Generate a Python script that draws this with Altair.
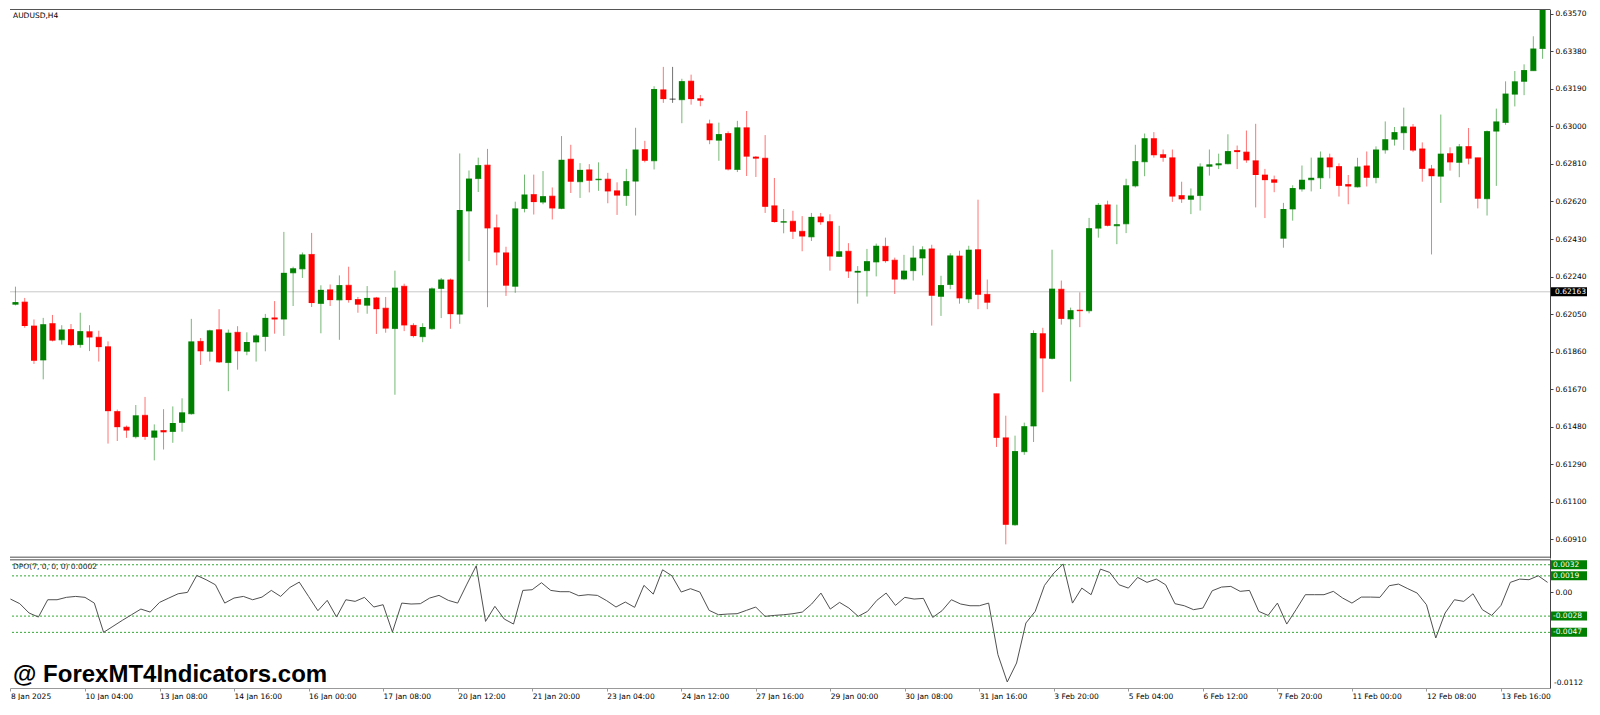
import altair as alt
import pandas as pd

# ---------------- data (AUDUSD H4 candles) ----------------
open_ = [0.62100, 0.62111, 0.61990, 0.61818, 0.62002, 0.61920, 0.61972, 0.61896, 0.61961, 0.61933,
         0.61885, 0.61557, 0.61478, 0.61430, 0.61538, 0.61427, 0.61461, 0.61456, 0.61502, 0.61546,
         0.61912, 0.61862, 0.61971, 0.61805, 0.61958, 0.61862, 0.61909, 0.61937, 0.62031, 0.62025,
         0.62259, 0.62279, 0.62352, 0.62104, 0.62173, 0.62122, 0.62196, 0.62124, 0.62095, 0.62132,
         0.62080, 0.61977, 0.62191, 0.61993, 0.61936, 0.61976, 0.62180, 0.62223, 0.62050, 0.62572,
         0.62736, 0.62804, 0.62487, 0.62360, 0.62191, 0.62585, 0.62655, 0.62617, 0.62647, 0.62585,
         0.62834, 0.62720, 0.62780, 0.62730, 0.62733, 0.62674, 0.62650, 0.62723, 0.62883, 0.62826,
         0.63185, 0.63138, 0.63135, 0.63229, 0.63140, 0.63013, 0.62930, 0.62964, 0.62782, 0.62993,
         0.62845, 0.62839, 0.62598, 0.62515, 0.62520, 0.62469, 0.62441, 0.62542, 0.62518, 0.62342,
         0.62368, 0.62262, 0.62270, 0.62314, 0.62393, 0.62323, 0.62228, 0.62270, 0.62334, 0.62380,
         0.62140, 0.62200, 0.62344, 0.62127, 0.62376, 0.62150, 0.61647, 0.61424, 0.60984, 0.61354,
         0.61484, 0.61951, 0.61826, 0.62176, 0.62026, 0.62070, 0.62067, 0.62485, 0.62603, 0.62497,
         0.62507, 0.62699, 0.62821, 0.62938, 0.62857, 0.62841, 0.62650, 0.62631, 0.62650, 0.62798,
         0.62805, 0.62811, 0.62878, 0.62870, 0.62826, 0.62754, 0.62730, 0.62434, 0.62582, 0.62683,
         0.62730, 0.62740, 0.62841, 0.62797, 0.62706, 0.62694, 0.62800, 0.62741, 0.62881, 0.62935,
         0.62968, 0.62997, 0.62886, 0.62785, 0.62748, 0.62862, 0.62818, 0.62898, 0.62841, 0.62634,
         0.62976, 0.63020, 0.63163, 0.63228, 0.63282, 0.63394]

high = [0.62189, 0.62132, 0.62023, 0.62031, 0.62046, 0.61994, 0.62000, 0.62057, 0.61994, 0.61966,
        0.61912, 0.61567, 0.61486, 0.61590, 0.61631, 0.61492, 0.61569, 0.61583, 0.61624, 0.62026,
        0.61929, 0.61971, 0.62075, 0.61972, 0.61989, 0.61958, 0.61948, 0.62051, 0.62116, 0.62466,
        0.62290, 0.62362, 0.62461, 0.62196, 0.62200, 0.62246, 0.62290, 0.62137, 0.62192, 0.62137,
        0.62137, 0.62270, 0.62204, 0.62004, 0.62004, 0.62185, 0.62233, 0.62230, 0.62863, 0.62777,
        0.62842, 0.62886, 0.62554, 0.62391, 0.62619, 0.62756, 0.62756, 0.62774, 0.62691, 0.62951,
        0.62907, 0.62814, 0.62809, 0.62818, 0.62765, 0.62717, 0.62785, 0.62993, 0.62927, 0.63203,
        0.63301, 0.63301, 0.63241, 0.63262, 0.63159, 0.63034, 0.63019, 0.62975, 0.63028, 0.63078,
        0.62850, 0.62956, 0.62739, 0.62582, 0.62573, 0.62546, 0.62562, 0.62562, 0.62555, 0.62497,
        0.62409, 0.62293, 0.62380, 0.62407, 0.62437, 0.62336, 0.62350, 0.62396, 0.62393, 0.62401,
        0.62244, 0.62358, 0.62371, 0.62396, 0.62629, 0.62225, 0.61647, 0.61536, 0.61435, 0.61501,
        0.61968, 0.61981, 0.62376, 0.62220, 0.62083, 0.62160, 0.62537, 0.62612, 0.62624, 0.62604,
        0.62735, 0.62907, 0.62964, 0.62971, 0.62883, 0.62883, 0.62720, 0.62686, 0.62813, 0.62883,
        0.62862, 0.62960, 0.62903, 0.62979, 0.63013, 0.62785, 0.62751, 0.62613, 0.62702, 0.62802,
        0.62842, 0.62873, 0.62862, 0.62813, 0.62754, 0.62841, 0.62873, 0.62899, 0.63025, 0.62997,
        0.63095, 0.63012, 0.62919, 0.62805, 0.63060, 0.62894, 0.62911, 0.62992, 0.62841, 0.62979,
        0.63090, 0.63228, 0.63280, 0.63314, 0.63456, 0.63594]

low = [0.62094, 0.61981, 0.61798, 0.61720, 0.61912, 0.61896, 0.61888, 0.61880, 0.61863, 0.61810,
       0.61395, 0.61408, 0.61424, 0.61421, 0.61414, 0.61310, 0.61365, 0.61399, 0.61455, 0.61541,
       0.61793, 0.61811, 0.61803, 0.61660, 0.61769, 0.61842, 0.61810, 0.61862, 0.61951, 0.61940,
       0.62091, 0.62233, 0.62086, 0.61953, 0.62091, 0.61920, 0.62108, 0.62057, 0.62052, 0.61950,
       0.61956, 0.61642, 0.61964, 0.61932, 0.61908, 0.61970, 0.62030, 0.61976, 0.62001, 0.62318,
       0.62668, 0.62085, 0.62297, 0.62142, 0.62158, 0.62565, 0.62554, 0.62606, 0.62529, 0.62581,
       0.62663, 0.62638, 0.62666, 0.62674, 0.62611, 0.62552, 0.62598, 0.62549, 0.62818, 0.62782,
       0.63119, 0.63119, 0.63016, 0.63110, 0.63102, 0.62910, 0.62826, 0.62777, 0.62769, 0.62749,
       0.62744, 0.62562, 0.62513, 0.62459, 0.62430, 0.62368, 0.62420, 0.62502, 0.62270, 0.62339,
       0.62233, 0.62103, 0.62139, 0.62241, 0.62310, 0.62152, 0.62222, 0.62220, 0.62246, 0.61992,
       0.62041, 0.62176, 0.62103, 0.62106, 0.62075, 0.62075, 0.61378, 0.60885, 0.60979, 0.61338,
       0.61403, 0.61655, 0.61821, 0.61997, 0.61709, 0.61984, 0.62054, 0.62437, 0.62494, 0.62404,
       0.62460, 0.62691, 0.62748, 0.62842, 0.62821, 0.62618, 0.62613, 0.62556, 0.62574, 0.62751,
       0.62784, 0.62808, 0.62784, 0.62816, 0.62590, 0.62536, 0.62667, 0.62386, 0.62523, 0.62670,
       0.62671, 0.62683, 0.62737, 0.62645, 0.62606, 0.62691, 0.62696, 0.62712, 0.62862, 0.62903,
       0.62881, 0.62870, 0.62720, 0.62352, 0.62613, 0.62776, 0.62743, 0.62808, 0.62585, 0.62549,
       0.62699, 0.63008, 0.63101, 0.63158, 0.63282, 0.63342]

close = [0.62111, 0.61990, 0.61814, 0.61999, 0.61916, 0.61972, 0.61893, 0.61964, 0.61932, 0.61883,
         0.61559, 0.61478, 0.61461, 0.61538, 0.61429, 0.61461, 0.61452, 0.61499, 0.61553, 0.61912,
         0.61862, 0.61968, 0.61806, 0.61956, 0.61862, 0.61909, 0.61942, 0.62031, 0.62023, 0.62259,
         0.62282, 0.62352, 0.62106, 0.62173, 0.62121, 0.62197, 0.62121, 0.62098, 0.62132, 0.62075,
         0.61977, 0.62184, 0.61993, 0.61939, 0.61985, 0.62180, 0.62225, 0.62050, 0.62577, 0.62736,
         0.62804, 0.62484, 0.62362, 0.62194, 0.62585, 0.62655, 0.62617, 0.62647, 0.62585, 0.62831,
         0.62720, 0.62780, 0.62725, 0.62735, 0.62671, 0.62650, 0.62723, 0.62883, 0.62826, 0.63189,
         0.63138, 0.63138, 0.63229, 0.63138, 0.63130, 0.62930, 0.62961, 0.62782, 0.62995, 0.62847,
         0.62837, 0.62593, 0.62516, 0.62520, 0.62467, 0.62443, 0.62542, 0.62515, 0.62342, 0.62368,
         0.62266, 0.62269, 0.62318, 0.62396, 0.62318, 0.62225, 0.62270, 0.62336, 0.62378, 0.62143,
         0.62197, 0.62347, 0.62130, 0.62376, 0.62148, 0.62108, 0.61424, 0.60984, 0.61357, 0.61483,
         0.61955, 0.61826, 0.62179, 0.62026, 0.62070, 0.62065, 0.62485, 0.62603, 0.62497, 0.62505,
         0.62702, 0.62824, 0.62940, 0.62854, 0.62841, 0.62645, 0.62631, 0.62650, 0.62797, 0.62808,
         0.62813, 0.62875, 0.62870, 0.62828, 0.62754, 0.62728, 0.62715, 0.62582, 0.62688, 0.62730,
         0.62740, 0.62842, 0.62793, 0.62699, 0.62696, 0.62797, 0.62740, 0.62883, 0.62935, 0.62971,
         0.63000, 0.62878, 0.62785, 0.62748, 0.62862, 0.62818, 0.62899, 0.62837, 0.62634, 0.62976,
         0.63025, 0.63166, 0.63228, 0.63285, 0.63394, 0.63590]

dpo = [-0.00081, -0.00135, -0.00244, -0.00291, -0.00089, -0.00089, -0.00061, -0.00050, -0.00061, -0.00128,
       -0.00470, -0.00400, -0.00330, -0.00264, -0.00198, -0.00233, -0.00120, -0.00069, -0.00019, -0.00003,
       0.00195, 0.00145, 0.00086, -0.00128, -0.00069, -0.00050, -0.00089, -0.00058, 0.00020, -0.00050,
       0.00055, 0.00117, -0.00050, -0.00217, -0.00096, -0.00291, -0.00089, -0.00108, -0.00061, -0.00174,
       -0.00147, -0.00466, -0.00128, -0.00139, -0.00135, -0.00069, -0.00038, -0.00096, -0.00128, 0.00094,
       0.00308, -0.00342, -0.00166, -0.00314, -0.00373, 0.00020, 0.00028, 0.00110, 0.00020, 0.00005,
       0.00005, -0.00042, -0.00030, -0.00038, -0.00100, -0.00174, -0.00116, -0.00178, 0.00079, -0.00023,
       0.00261, 0.00191, 0.00001, 0.00040, 0.00001, -0.00213, -0.00264, -0.00256, -0.00252, -0.00213,
       -0.00174, -0.00283, -0.00272, -0.00264, -0.00252, -0.00233, -0.00139, -0.00011, -0.00198, -0.00120,
       -0.00186, -0.00283, -0.00225, -0.00096, -0.00011, -0.00155, -0.00061, -0.00081, -0.00073, -0.00295,
       -0.00217, -0.00089, -0.00139, -0.00159, -0.00159, -0.00128, -0.00731, -0.01050, -0.00828, -0.00361,
       -0.00225, 0.00079, 0.00223, 0.00328, -0.00128, 0.00047, -0.00030, 0.00269, 0.00230, 0.00086,
       0.00047, 0.00172, 0.00114, 0.00152, 0.00086, -0.00135, -0.00159, -0.00205, -0.00186, 0.00016,
       0.00059, 0.00067, 0.00009, 0.00020, -0.00225, -0.00272, -0.00128, -0.00373, -0.00205, -0.00030,
       -0.00030, -0.00030, 0.00009, -0.00069, -0.00128, -0.00058, -0.00058, -0.00061, 0.00075, 0.00094,
       0.00040, -0.00011, -0.00147, -0.00536, -0.00244, -0.00089, -0.00108, -0.00019, -0.00205, -0.00272,
       -0.00155, 0.00114, 0.00152, 0.00145, 0.00191, 0.00114]

tick_labels = ["8 Jan 2025", "10 Jan 04:00", "13 Jan 08:00", "14 Jan 16:00", "16 Jan 00:00",
               "17 Jan 08:00", "20 Jan 12:00", "21 Jan 20:00", "23 Jan 04:00", "24 Jan 12:00",
               "27 Jan 16:00", "29 Jan 00:00", "30 Jan 08:00", "31 Jan 16:00", "3 Feb 20:00",
               "5 Feb 04:00", "6 Feb 12:00", "7 Feb 20:00", "11 Feb 00:00", "12 Feb 08:00",
               "13 Feb 16:00"]
tick_every = 8

price_ticks = [0.60910, 0.61100, 0.61290, 0.61480, 0.61670, 0.61860, 0.62050, 0.62240,
               0.62430, 0.62620, 0.62810, 0.63000, 0.63190, 0.63380, 0.63570]
price_range = [0.60816, 0.63594]
bid = 0.62163

dpo_levels = [0.0032, 0.0019, -0.0028, -0.0047]
dpo_range = [-0.0112, 0.00387]

symbol_title = "AUDUSD,H4"
dpo_title = "DPO(7, 0, 0, 0) 0.0002"
watermark = "@ ForexMT4Indicators.com"

# ---------------- layout / style ----------------
W = 1540
H1 = 549
H2 = 129
FONT = "DejaVu Sans"
FS = 7.5

n = len(close)
df = pd.DataFrame({
    "i": list(range(n)),
    "open": open_, "high": high, "low": low, "close": close, "dpo": dpo,
})
df["dir"] = ["up" if c > o else ("down" if c < o else "flat") for o, c in zip(open_, close)]
df["top"] = [max(o, c) for o, c in zip(open_, close)]
df["bot"] = [min(o, c) for o, c in zip(open_, close)]

xscale = alt.Scale(domain=[-0.05, n - 1 + 0.26], nice=False, zero=False)
yscale = alt.Scale(domain=price_range, nice=False, zero=False)
dscale = alt.Scale(domain=dpo_range, nice=False, zero=False)

color = alt.Color("dir:N", legend=None,
                  scale=alt.Scale(domain=["up", "down", "flat"],
                                  range=["#008000", "#ff0000", "#000000"]))

yaxis = alt.Axis(orient="right", values=price_ticks, format=".5f", title=None, grid=False,
                 labelFont=FONT, labelFontSize=FS, labelColor="#000000", labelPadding=2,
                 tickSize=3, tickColor="#444444", domainColor="#444444", labelOverlap=False,
                 labelFlush=False)

base = alt.Chart(df).encode(x=alt.X("i:Q", scale=xscale, axis=None))

bid_df = pd.DataFrame({"p": [bid], "lab": ["%.5f" % bid]})
bid_line = alt.Chart(bid_df).mark_rule(color="#c8c8c8", strokeWidth=1).encode(
    y=alt.Y("p:Q", scale=yscale, axis=yaxis))

wicks = base.mark_rule(strokeWidth=1, opacity=0.55).encode(
    y=alt.Y("low:Q", scale=yscale, axis=yaxis), y2="high:Q", color=color)
bodies = base.mark_bar(size=6).encode(
    y=alt.Y("top:Q", scale=yscale, axis=yaxis), y2="bot:Q", color=color)
doji = base.mark_tick(orient="horizontal", size=6, thickness=1).encode(
    y=alt.Y("open:Q", scale=yscale, axis=yaxis), color=color)

one = pd.DataFrame({"k": [0]})
top_border = alt.Chart(one).mark_rule(color="#555555", strokeWidth=1).encode(
    x=alt.value(0), x2=alt.value(W), y=alt.value(0.5))
bottom_border = alt.Chart(one).mark_rule(color="#888888", strokeWidth=1.5).encode(
    x=alt.value(0), x2=alt.value(W), y=alt.value(H1 - 0.75))

title_txt = alt.Chart(pd.DataFrame({"t": [symbol_title]})).mark_text(
    align="left", baseline="top", font=FONT, fontSize=FS, color="#000000").encode(
    x=alt.value(3), y=alt.value(3), text="t:N")

bid_box = alt.Chart(bid_df).mark_rule(color="#000000", strokeWidth=9).encode(
    y=alt.Y("p:Q", scale=yscale, axis=yaxis), x=alt.value(W + 1), x2=alt.value(W + 37))
bid_txt = alt.Chart(bid_df).mark_text(
    align="left", baseline="middle", font=FONT, fontSize=FS, color="#ffffff").encode(
    y=alt.Y("p:Q", scale=yscale, axis=yaxis), x=alt.value(W + 5), text="lab:N")

main = alt.layer(bid_line, wicks, bodies, doji, top_border, bottom_border,
                 title_txt, bid_box, bid_txt).properties(width=W, height=H1)

# ---------------- DPO panel ----------------
label_expr = "[" + ",".join("'%s'" % s for s in tick_labels) + "][datum.value / %d]" % tick_every
xaxis = alt.Axis(values=[k * tick_every for k in range(len(tick_labels))], labelExpr=label_expr,
                 labelAlign="left", labelFont=FONT, labelFontSize=FS, labelColor="#000000",
                 labelPadding=1, tickSize=3, tickColor="#999999", domainColor="#999999",
                 grid=False, title=None, labelFlush=False, labelOverlap=False, labelBound=False)

dyaxis = alt.Axis(orient="right", values=[dpo_levels[0], dpo_levels[1], 0, dpo_levels[2], dpo_levels[3]],
                  labelExpr="datum.value == 0 ? '0.00' : ''", title=None, grid=False,
                  labelFont=FONT, labelFontSize=FS, labelColor="#000000", labelPadding=2,
                  tickSize=3, tickColor="#444444", domainColor="#444444", labelFlush=False)

lev_df = pd.DataFrame({"v": dpo_levels, "lab": ["%.4f" % v for v in dpo_levels]})
levels = alt.Chart(lev_df).mark_rule(color="#33aa33", strokeDash=[2, 2], strokeWidth=1).encode(
    y=alt.Y("v:Q", scale=dscale, axis=dyaxis))

dline = alt.Chart(df).mark_line(color="#505050", strokeWidth=1).encode(
    x=alt.X("i:Q", scale=xscale, axis=xaxis),
    y=alt.Y("dpo:Q", scale=dscale, axis=dyaxis))

d_top = alt.Chart(one).mark_rule(color="#888888", strokeWidth=1.5).encode(
    x=alt.value(0), x2=alt.value(W), y=alt.value(0.75))

d_title = alt.Chart(pd.DataFrame({"t": [dpo_title]})).mark_text(
    align="left", baseline="top", font=FONT, fontSize=FS, color="#222222").encode(
    x=alt.value(3), y=alt.value(4), text="t:N")

lev_box = alt.Chart(lev_df).mark_rule(color="#008000", strokeWidth=9).encode(
    y=alt.Y("v:Q", scale=dscale, axis=dyaxis), x=alt.value(W + 1), x2=alt.value(W + 37))
lev_txt = alt.Chart(lev_df).mark_text(
    align="left", baseline="middle", font=FONT, fontSize=FS, color="#ffffff").encode(
    y=alt.Y("v:Q", scale=dscale, axis=dyaxis), x=alt.value(W + 3), text="lab:N")

min_df = pd.DataFrame({"v": [dpo_range[0]], "lab": ["%.4f" % dpo_range[0]]})
min_txt = alt.Chart(min_df).mark_text(
    align="left", baseline="bottom", font=FONT, fontSize=FS, color="#000000", dy=-1).encode(
    y=alt.Y("v:Q", scale=dscale, axis=dyaxis), x=alt.value(W + 4), text="lab:N")

wm = alt.Chart(pd.DataFrame({"t": [watermark]})).mark_text(
    align="left", baseline="alphabetic", font="Liberation Sans", fontWeight="bold",
    fontSize=24, color="#000000").encode(
    x=alt.value(3), y=alt.value(H2 - 6), text="t:N")

lower = alt.layer(levels, dline, d_top, d_title, lev_box, lev_txt, min_txt, wm).properties(
    width=W, height=H2)

chart = alt.vconcat(main, lower, spacing=1).properties(
    padding=0, background="#ffffff").configure_view(stroke=None)

chart.save("out.html", embed_options={"renderer": "svg", "actions": False})
